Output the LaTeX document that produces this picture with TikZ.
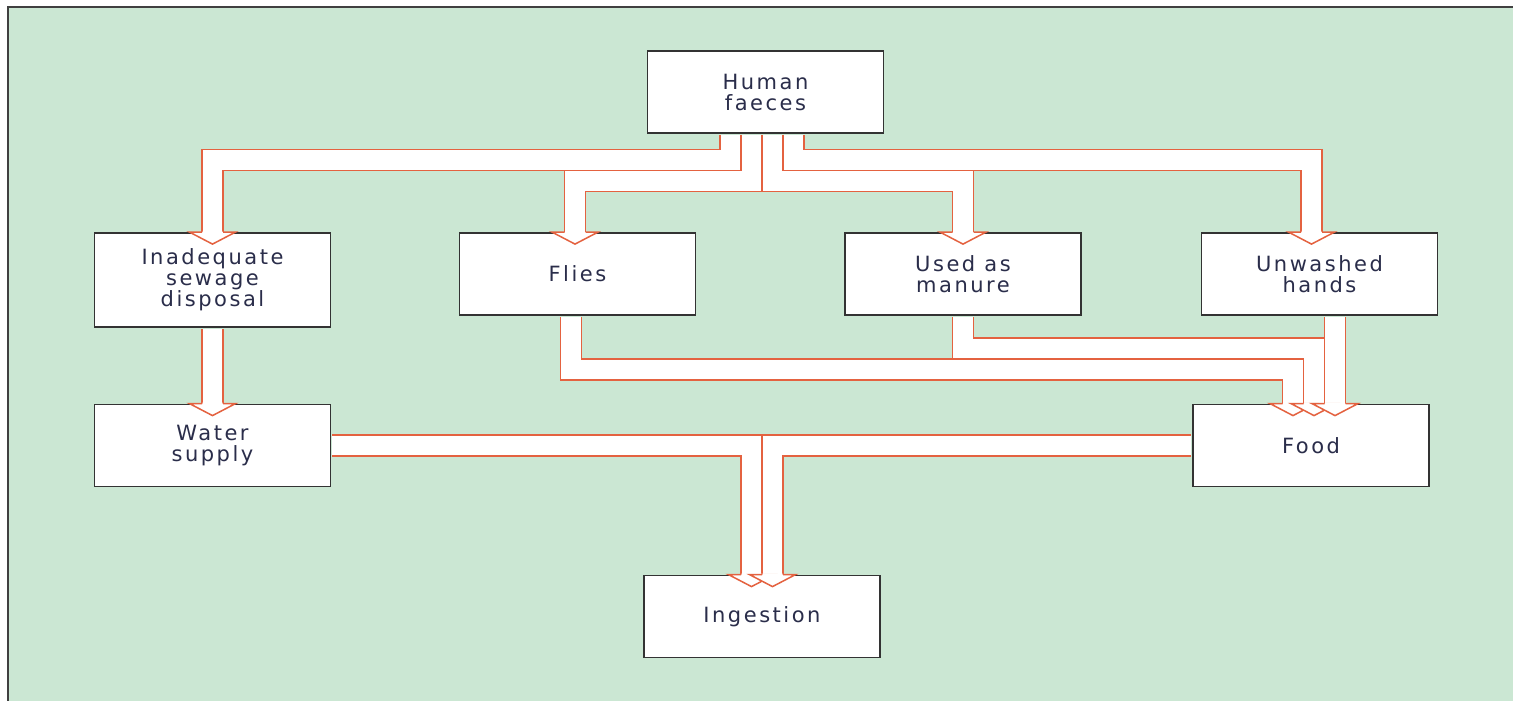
\documentclass[tikz,border=0pt]{standalone}
\usepackage{fontspec}
\setmainfont{DejaVu Sans}[LetterSpace=12]
\usetikzlibrary{positioning}
\definecolor{paper}{RGB}{203,231,211}
\definecolor{rust}{RGB}{228,98,64}
\definecolor{ink}{RGB}{42,45,74}
\tikzset{head/.pic={
    \fill[white] (-9.8,-1.2) -- (-9.8,0) -- (-23,0) -- (0,12) -- (23,0) -- (9.8,0) -- (9.8,-1.2) -- cycle;
    \draw[rust, line width=1.5pt] (-10.5,0) -- (-23,0) -- (0,12) -- (23,0) -- (10.5,0);}}

\begin{document}
\begin{tikzpicture}[x=1pt, y=-1pt,
      box/.style={draw=black!80, line width=1.8pt, fill=white,
        minimum width=236pt, minimum height=82pt, inner sep=0pt,
        align=center, text=ink, font=\fontsize{21}{21}\selectfont},
      channel/.style={draw=rust, line width=1.5pt, double=white,
        double distance=19.5pt, shorten <=0.9pt},
      on grid]

    \useasboundingbox (0,0) rectangle (1513,701);
    \fill[white] (0,0) rectangle (1513,701);
    \fill[paper] (8,7) rectangle (1513,701);
    \draw[black!75, line width=2pt] (8,701) -- (8,7) -- (1513,7);

    \node[box]
      (Faeces) at (765.5,92) {Human\\faeces};
    \node[box]
      (Flies) [below left=182pt and 188pt of Faeces] {Flies};
    \node[box]
      (Manure) [below right=182pt and 197.5pt of Faeces] {Used as\\manure};
    \node[box]
      (Hands) [below right=182pt and 554pt of Faeces] {Unwashed\\hands};
    \node[box, minimum height=94pt]
      (Sewage) [left=365pt of Flies, yshift=-6pt] {Inadequate\\sewage\\disposal};
    \node[box]
      (Water) [below=165.5pt of Sewage] {Water\\supply};
    \node[box]
      (Food) [right=1098.5pt of Water] {Food};
    \node[box]
      (Ingestion) [below=524.5pt of Faeces, xshift=-3.5pt] {Ingestion};

    % routes out of the faeces box
    \draw[channel] ([xshift=-35pt]Faeces.south) -- ++(0,26) -| (Sewage.north);
    \draw[channel] ([xshift=-14pt]Faeces.south) -- ++(0,47) -| ([xshift=-2.5pt]Flies.north);
    \draw[channel] ([xshift=7pt]Faeces.south) -- ++(0,47) -| (Manure.north);
    \draw[channel] ([xshift=28pt]Faeces.south) -- ++(0,26) -| ([xshift=-8pt]Hands.north);

    % routes into water and food
    \draw[channel] (Sewage.south) -- (Sewage.south |- Water.north);
    \draw[channel] ([xshift=-6.5pt]Flies.south) -- ++(0,53.5) -| ([xshift=-18pt]Food.north);
    \draw[channel] (Manure.south) -- ++(0,32.5) -| ([xshift=3pt]Food.north);
    \draw[channel] ([xshift=15.5pt]Hands.south) -- ([xshift=15.5pt]Hands.south |- Food.north);

    % routes into ingestion
    \draw[channel] (Water.east) -| ([xshift=-10.5pt]Ingestion.north);
    \draw[channel] (Food.west) -| ([xshift=10.5pt]Ingestion.north);

    \pic at (Sewage.north) {head};
    \pic at ([xshift=-2.5pt]Flies.north) {head};
    \pic at (Manure.north) {head};
    \pic at ([xshift=-8pt]Hands.north) {head};
    \pic at (Sewage.south |- Water.north) {head};
    \pic at ([xshift=-18pt]Food.north) {head};
    \pic at ([xshift=3pt]Food.north) {head};
    \pic at ([xshift=15.5pt]Hands.south |- Food.north) {head};
    \pic at ([xshift=-10.5pt]Ingestion.north) {head};
    \pic at ([xshift=10.5pt]Ingestion.north) {head};

  \end{tikzpicture}
\end{document}
